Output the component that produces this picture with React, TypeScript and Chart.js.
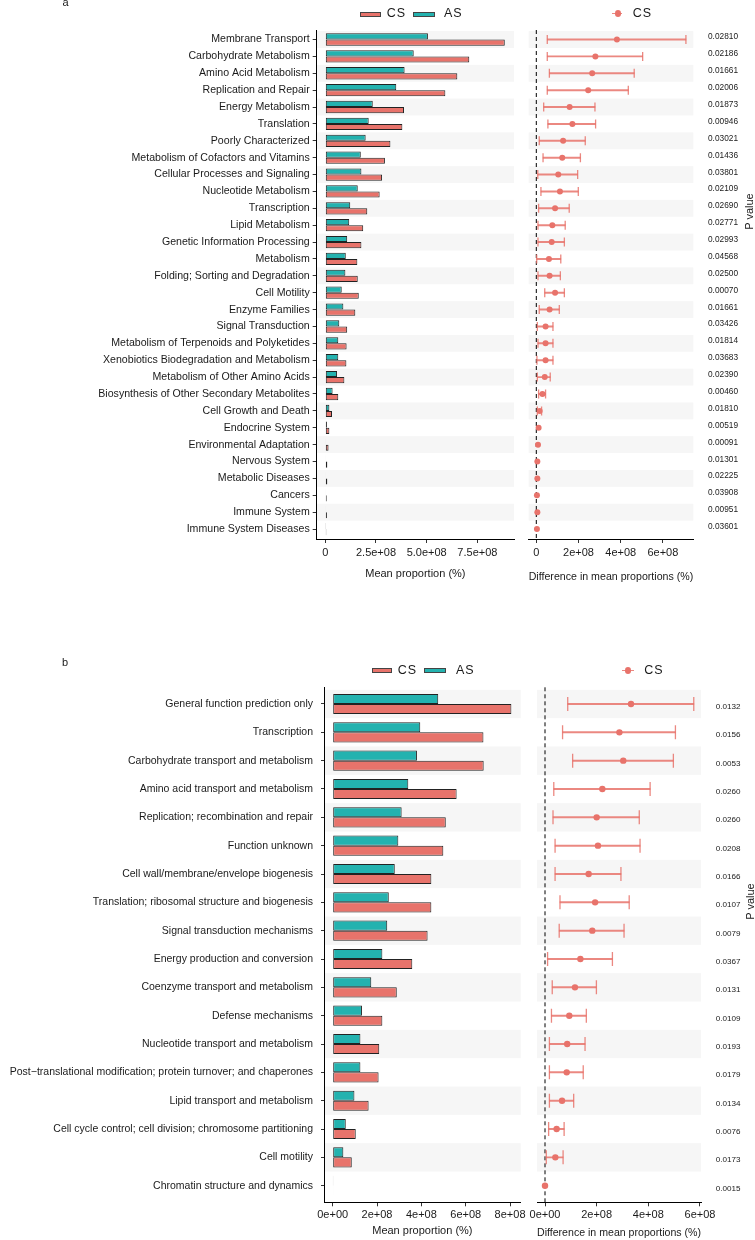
import React, { useEffect, useRef } from 'react';
import { Chart, registerables } from 'chart.js';

Chart.register(...registerables);

const FONT = "'Liberation Sans', Arial, Helvetica, sans-serif";
const CS_COLOR = '#E8736B';
const AS_COLOR = '#23B2AF';
const ERR_COLOR = 'rgba(232,115,107,0.85)';
const BAND_COLOR = '#F6F6F6';
const TEXT = '#1a1a1a';

// ---------------- Panel a data ----------------
const categoriesA = [
  'Membrane Transport', 'Carbohydrate Metabolism', 'Amino Acid Metabolism', 'Replication and Repair',
  'Energy Metabolism', 'Translation', 'Poorly Characterized', 'Metabolism of Cofactors and Vitamins',
  'Cellular Processes and Signaling', 'Nucleotide Metabolism', 'Transcription', 'Lipid Metabolism',
  'Genetic Information Processing', 'Metabolism', 'Folding; Sorting and Degradation', 'Cell Motility',
  'Enzyme Families', 'Signal Transduction', 'Metabolism of Terpenoids and Polyketides',
  'Xenobiotics Biodegradation and Metabolism', 'Metabolism of Other Amino Acids',
  'Biosynthesis of Other Secondary Metabolites', 'Cell Growth and Death', 'Endocrine System',
  'Environmental Adaptation', 'Nervous System', 'Metabolic Diseases', 'Cancers', 'Immune System',
  'Immune System Diseases',
];
const asMeanA = [
  5.06e8, 4.36e8, 3.91e8, 3.50e8, 2.34e8, 2.14e8, 1.99e8, 1.75e8, 1.78e8, 1.60e8,
  1.23e8, 1.18e8, 1.08e8, 1.01e8, 0.99e8, 0.81e8, 0.89e8, 0.69e8, 0.64e8, 0.64e8,
  0.58e8, 0.36e8, 0.20e8, 0.08e8, 0.03e8, 0.02e8, 0.02e8, 0.02e8, 0.02e8, 0.01e8,
];
const csMeanA = [
  8.85e8, 7.10e8, 6.51e8, 5.92e8, 3.88e8, 3.80e8, 3.21e8, 2.94e8, 2.80e8, 2.68e8,
  2.07e8, 1.87e8, 1.78e8, 1.58e8, 1.60e8, 1.65e8, 1.48e8, 1.08e8, 1.05e8, 1.04e8,
  0.94e8, 0.64e8, 0.33e8, 0.20e8, 0.16e8, 0.10e8, 0.10e8, 0.07e8, 0.08e8, 0.05e8,
];
const diffA = [
  3.82e8, 2.80e8, 2.65e8, 2.46e8, 1.58e8, 1.71e8, 1.27e8, 1.23e8, 1.04e8, 1.12e8,
  0.89e8, 0.76e8, 0.73e8, 0.60e8, 0.63e8, 0.89e8, 0.63e8, 0.44e8, 0.44e8, 0.44e8,
  0.40e8, 0.29e8, 0.16e8, 0.11e8, 0.08e8, 0.05e8, 0.05e8, 0.03e8, 0.05e8, 0.03e8,
];
const ciLowA = [
  0.52e8, 0.52e8, 0.62e8, 0.52e8, 0.35e8, 0.55e8, 0.14e8, 0.32e8, 0.07e8, 0.22e8,
  0.11e8, 0.08e8, 0.08e8, 0.02e8, 0.08e8, 0.40e8, 0.14e8, 0.05e8, 0.08e8, 0.03e8,
  0.05e8, 0.11e8, 0.05e8, null, null, null, null, null, null, null,
];
const ciHighA = [
  7.09e8, 5.04e8, 4.64e8, 4.36e8, 2.78e8, 2.81e8, 2.32e8, 2.09e8, 1.96e8, 1.99e8,
  1.56e8, 1.37e8, 1.33e8, 1.16e8, 1.14e8, 1.33e8, 1.09e8, 0.79e8, 0.79e8, 0.79e8,
  0.66e8, 0.44e8, 0.25e8, null, null, null, null, null, null, null,
];
const pValuesA = [
  '0.02810', '0.02186', '0.01661', '0.02006', '0.01873', '0.00946', '0.03021', '0.01436',
  '0.03801', '0.02109', '0.02690', '0.02771', '0.02993', '0.04568', '0.02500', '0.00070',
  '0.01661', '0.03426', '0.01814', '0.03683', '0.02390', '0.00460', '0.01810', '0.00519',
  '0.00091', '0.01301', '0.02225', '0.03908', '0.00951', '0.03601',
];
const barTickValuesA = [0, 2.5e8, 5e8, 7.5e8];
const barTickLabelsA = ['0', '2.5e+08', '5.0e+08', '7.5e+08'];
const diffTickValuesA = [0, 2e8, 4e8, 6e8];
const diffTickLabelsA = ['0', '2e+08', '4e+08', '6e+08'];

// ---------------- Panel b data ----------------
const categoriesB = [
  'General function prediction only', 'Transcription', 'Carbohydrate transport and metabolism',
  'Amino acid transport and metabolism', 'Replication; recombination and repair', 'Function unknown',
  'Cell wall/membrane/envelope biogenesis', 'Translation; ribosomal structure and biogenesis',
  'Signal transduction mechanisms', 'Energy production and conversion', 'Coenzyme transport and metabolism',
  'Defense mechanisms', 'Nucleotide transport and metabolism',
  'Post\u2212translational modification; protein turnover; and chaperones', 'Lipid transport and metabolism',
  'Cell cycle control; cell division; chromosome partitioning', 'Cell motility', 'Chromatin structure and dynamics',
];
const asMeanB = [
  4.76e8, 3.95e8, 3.80e8, 3.41e8, 3.11e8, 2.96e8, 2.80e8, 2.53e8, 2.46e8,
  2.24e8, 1.74e8, 1.32e8, 1.25e8, 1.25e8, 0.98e8, 0.59e8, 0.48e8, 0.01e8,
];
const csMeanB = [
  8.06e8, 6.80e8, 6.81e8, 5.59e8, 5.10e8, 4.99e8, 4.45e8, 4.45e8, 4.28e8,
  3.59e8, 2.89e8, 2.24e8, 2.10e8, 2.07e8, 1.62e8, 1.04e8, 0.86e8, 0.02e8,
];
const diffB = [
  3.33e8, 2.88e8, 3.03e8, 2.22e8, 2.00e8, 2.05e8, 1.69e8, 1.94e8, 1.83e8,
  1.37e8, 1.16e8, 0.94e8, 0.86e8, 0.84e8, 0.66e8, 0.45e8, 0.40e8, 0.00e8,
];
const ciLowB = [
  0.88e8, 0.68e8, 1.07e8, 0.34e8, 0.31e8, 0.39e8, 0.39e8, 0.58e8, 0.55e8,
  0.10e8, 0.28e8, 0.25e8, 0.17e8, 0.17e8, 0.17e8, 0.14e8, 0.05e8, null,
];
const ciHighB = [
  5.76e8, 5.05e8, 4.97e8, 4.07e8, 3.65e8, 3.68e8, 2.94e8, 3.26e8, 3.06e8,
  2.61e8, 1.99e8, 1.60e8, 1.55e8, 1.48e8, 1.11e8, 0.74e8, 0.70e8, null,
];
const pValuesB = [
  '0.0132', '0.0156', '0.0053', '0.0260', '0.0260', '0.0208', '0.0166', '0.0107', '0.0079',
  '0.0367', '0.0131', '0.0109', '0.0193', '0.0179', '0.0134', '0.0076', '0.0173', '0.0015',
];
const barTickValuesB = [0, 2e8, 4e8, 6e8, 8e8];
const barTickLabelsB = ['0e+00', '2e+08', '4e+08', '6e+08', '8e+08'];
const diffTickValuesB = [0, 2e8, 4e8, 6e8];
const diffTickLabelsB = ['0e+00', '2e+08', '4e+08', '6e+08'];

const seriesNames = ['CS', 'AS'];

// ---------------- plugin: alternating bands + dashed zero line ----------------
const bandPlugin = {
  id: 'bands',
  beforeDraw(chart: any, _args: any, opts: any) {
    const { ctx, chartArea } = chart;
    const ys = chart.scales.y;
    ctx.save();
    ctx.fillStyle = BAND_COLOR;
    for (let i = 0; i < opts.count; i += 2) {
      const y0 = ys.getPixelForValue(i - 0.5);
      const y1 = ys.getPixelForValue(i + 0.5);
      ctx.fillRect(chartArea.left, Math.min(y0, y1), chartArea.right - chartArea.left, Math.abs(y1 - y0));
    }
    if (opts.zero) {
      const x0 = chart.scales.x.getPixelForValue(0);
      ctx.strokeStyle = '#000';
      ctx.lineWidth = 1;
      ctx.setLineDash([4, 3]);
      ctx.beginPath();
      ctx.moveTo(x0, chartArea.top);
      ctx.lineTo(x0, chartArea.bottom);
      ctx.stroke();
    }
    ctx.restore();
  },
};

function xAxis(g: any, title: string) {
  return {
    type: 'linear',
    position: 'bottom',
    min: g.xMin,
    max: g.xMax,
    afterBuildTicks: (s: any) => { s.ticks = g.tickValues.map((v: number) => ({ value: v })); },
    afterFit: (s: any) => { s.height = g.xHeight; },
    ticks: {
      callback: (_v: any, i: number) => g.tickLabels[i],
      autoSkip: false, maxRotation: 0, minRotation: 0,
      padding: g.xTickPad,
      font: { family: FONT, size: 11 }, color: TEXT,
    },
    grid: { display: true, drawOnChartArea: false, drawTicks: true, tickLength: 4, color: '#333', lineWidth: 1 },
    border: { display: true, color: '#000', width: 1 },
    title: {
      display: true, text: title, font: { family: FONT, size: 11 }, color: TEXT,
      padding: { top: 0, bottom: g.titlePad },
    },
  };
}

function makeBarChart(canvas: HTMLCanvasElement, g: any) {
  const n = g.cats.length;
  return new Chart(canvas, {
    type: 'bar',
    data: {
      datasets: [
        {
          label: seriesNames[1],
          data: g.as.map((v: number, i: number) => ({ x: v, y: i })),
          backgroundColor: AS_COLOR, borderColor: '#222', borderWidth: 1, borderSkipped: false,
          categoryPercentage: g.catPct, barPercentage: 1,
        },
        {
          label: seriesNames[0],
          data: g.cs.map((v: number, i: number) => ({ x: v, y: i })),
          backgroundColor: CS_COLOR, borderColor: '#222', borderWidth: 1, borderSkipped: false,
          categoryPercentage: g.catPct, barPercentage: 1,
        },
      ],
    },
    options: {
      indexAxis: 'y',
      responsive: false,
      animation: false,
      events: [],
      layout: { padding: g.pad },
      plugins: { legend: { display: false }, tooltip: { enabled: false }, bands: { count: n, zero: false } },
      scales: {
        x: xAxis(g, 'Mean proportion (%)'),
        y: {
          type: 'linear', position: 'left', reverse: true, min: g.yMin, max: g.yMax, offset: false,
          afterBuildTicks: (s: any) => { s.ticks = g.cats.map((_c: string, i: number) => ({ value: i })); },
          afterFit: (s: any) => { s.width = g.yWidth; },
          ticks: {
            callback: (_v: any, i: number) => g.cats[i],
            autoSkip: false, padding: g.yPad,
            font: { family: FONT, size: g.labelSize }, color: TEXT,
          },
          grid: { display: true, offset: false, drawOnChartArea: false, drawTicks: true, tickLength: g.yTick, color: '#333' },
          border: { display: true, color: '#000', width: 1 },
        },
      },
    } as any,
    plugins: [bandPlugin],
  } as any);
}

function makeDiffChart(canvas: HTMLCanvasElement, g: any) {
  const n = g.diff.length;
  const caps: any[] = [];
  const whiskers: any[] = [];
  g.lo.forEach((v: number | null, i: number) => {
    if (v !== null && g.hi[i] !== null) {
      caps.push({ x: v, y: i });
      caps.push({ x: g.hi[i], y: i });
      whiskers.push({ x: [v, g.hi[i]], y: i });
    }
  });
  return new Chart(canvas, {
    type: 'bar',
    data: {
      datasets: [
        {
          type: 'scatter', label: seriesNames[0], order: 0,
          data: g.diff.map((v: number, i: number) => ({ x: v, y: i })),
          pointRadius: g.pointR, pointBackgroundColor: CS_COLOR, pointBorderWidth: 0, pointHoverRadius: g.pointR,
        },
        {
          type: 'scatter', label: 'caps', order: 1, data: caps,
          pointStyle: 'line', pointRotation: 90, pointRadius: g.capR, pointHoverRadius: g.capR,
          pointBorderColor: ERR_COLOR, pointBorderWidth: 1.3, pointBackgroundColor: ERR_COLOR,
        },
        {
          type: 'bar', label: 'ci', order: 2, data: whiskers,
          backgroundColor: ERR_COLOR, borderWidth: 0, barThickness: 1.3,
        },
      ],
    },
    options: {
      indexAxis: 'y',
      responsive: false,
      animation: false,
      events: [],
      layout: { padding: g.pad },
      plugins: { legend: { display: false }, tooltip: { enabled: false }, bands: { count: n, zero: true } },
      scales: {
        x: xAxis(g, 'Difference in mean proportions (%)'),
        y: {
          type: 'linear', position: 'right', reverse: true, min: g.yMin, max: g.yMax, offset: false,
          afterBuildTicks: (s: any) => { s.ticks = g.pvals.map((_p: string, i: number) => ({ value: i })); },
          afterFit: (s: any) => { s.width = g.yWidth; },
          ticks: {
            callback: (_v: any, i: number) => g.pvals[i],
            autoSkip: false, padding: g.pPad, labelOffset: g.pOffset,
            font: { family: FONT, size: g.pSize }, color: TEXT,
          },
          grid: { display: false, offset: false },
          border: { display: false },
        },
      },
    } as any,
    plugins: [bandPlugin],
  } as any);
}

// ---------------- layout geometry ----------------
const GEO = {
  aBar: { left: 0, top: 0, w: 520, h: 590 },
  aDiff: { left: 500, top: 0, w: 255, h: 590 },
  bBar: { left: 0, top: 640, w: 545, h: 600 },
  bDiff: { left: 510, top: 640, w: 245, h: 600 },
};

function Txt(props: any) {
  const { x, baseline, size, children, style } = props;
  return (
    <div
      style={{
        position: 'absolute', left: x, top: baseline - 0.8465 * size, fontSize: size,
        lineHeight: `${size}px`, whiteSpace: 'nowrap', fontFamily: FONT, color: TEXT, ...style,
      }}
    >
      {children}
    </div>
  );
}

function Box(props: any) {
  const { x, y, w, h, color } = props;
  return (
    <div
      style={{
        position: 'absolute', left: x, top: y, width: w, height: h, background: color,
        border: '1px solid #444', boxSizing: 'border-box',
      }}
    />
  );
}

function PointKey(props: any) {
  const { x0, x1, cx, cy } = props;
  return (
    <>
      <div style={{ position: 'absolute', left: x0, top: cy - 0.65, width: x1 - x0, height: 1.3, background: ERR_COLOR }} />
      <div style={{ position: 'absolute', left: cx - 3, top: cy - 3.3, width: 6, height: 6.6, borderRadius: '50%', background: CS_COLOR }} />
    </>
  );
}

function PLabel(props: any) {
  const { cx, cy } = props;
  return (
    <div
      style={{
        position: 'absolute', left: cx - 30, top: cy - 5.5, width: 60, height: 11, lineHeight: '11px',
        fontSize: 11, textAlign: 'center', transform: 'rotate(-90deg)', transformOrigin: '50% 50%',
        color: TEXT, whiteSpace: 'nowrap', fontFamily: FONT,
      }}
    >
      P value
    </div>
  );
}

const legendStyle = { letterSpacing: '1px' };

export default function App() {
  const aBar = useRef<HTMLCanvasElement>(null);
  const aDiff = useRef<HTMLCanvasElement>(null);
  const bBar = useRef<HTMLCanvasElement>(null);
  const bDiff = useRef<HTMLCanvasElement>(null);

  useEffect(() => {
    const charts = [
      makeBarChart(aBar.current as HTMLCanvasElement, {
        cats: categoriesA, as: asMeanA, cs: csMeanA,
        pad: { left: 0, right: 6, top: 30, bottom: 0 },
        yWidth: 316.7, xHeight: 51, yMin: -0.563, yMax: 29.59,
        xMin: -0.424e8, xMax: 9.305e8, tickValues: barTickValuesA, tickLabels: barTickLabelsA,
        catPct: 0.73, yTick: 4, yPad: 3, xTickPad: 3, titlePad: 9.4, labelSize: 10.6,
      }),
      makeDiffChart(aDiff.current as HTMLCanvasElement, {
        diff: diffA, lo: ciLowA, hi: ciHighA, pvals: pValuesA,
        pad: { left: 28.7, right: 0, top: 30, bottom: 0 },
        yWidth: 61.7, xHeight: 51, yMin: -0.563, yMax: 29.59,
        xMin: -0.36e8, xMax: 7.44e8, tickValues: diffTickValuesA, tickLabels: diffTickLabelsA,
        xTickPad: 3, titlePad: 6.7, pPad: 6.7, pOffset: -2.3, pSize: 8.3, pointR: 3, capR: 4.5,
      }),
      makeBarChart(bBar.current as HTMLCanvasElement, {
        cats: categoriesB, as: asMeanB, cs: csMeanB,
        pad: { left: 0, right: 24.3, top: 47.3, bottom: 0 },
        yWidth: 324, xHeight: 37.7, yMin: -0.589, yMax: 17.586,
        xMin: -0.392e8, xMax: 8.48e8, tickValues: barTickValuesB, tickLabels: barTickLabelsB,
        catPct: 0.71, yTick: 3, yPad: 8, xTickPad: 2, titlePad: 2.4, labelSize: 10.5,
      }),
      makeDiffChart(bDiff.current as HTMLCanvasElement, {
        diff: diffB, lo: ciLowB, hi: ciHighB, pvals: pValuesB,
        pad: { left: 27, right: 0, top: 47.3, bottom: 0 },
        yWidth: 54, xHeight: 37.7, yMin: -0.589, yMax: 17.586,
        xMin: -0.31e8, xMax: 6.04e8, tickValues: diffTickValuesB, tickLabels: diffTickLabelsB,
        xTickPad: 2, titlePad: 0, pPad: 6.7, pOffset: 2.9, pSize: 8.1, pointR: 3.2, capR: 7,
      }),
    ];
    return () => charts.forEach((c) => c.destroy());
  }, []);

  const cv = (k: keyof typeof GEO) => ({
    position: 'absolute' as const, left: GEO[k].left, top: GEO[k].top, width: GEO[k].w, height: GEO[k].h,
  });

  return (
    <div
      style={{
        position: 'absolute', left: 0, top: 0, width: 755, height: 1240, overflow: 'hidden',
        background: '#fff', fontFamily: FONT,
      }}
    >
      <canvas ref={aBar} width={GEO.aBar.w} height={GEO.aBar.h} style={cv('aBar')} />
      <canvas ref={aDiff} width={GEO.aDiff.w} height={GEO.aDiff.h} style={cv('aDiff')} />
      <canvas ref={bBar} width={GEO.bBar.w} height={GEO.bBar.h} style={cv('bBar')} />
      <canvas ref={bDiff} width={GEO.bDiff.w} height={GEO.bDiff.h} style={cv('bDiff')} />

      {/* panel letters */}
      <Txt x={62.5} baseline={5.8} size={11}>a</Txt>
      <Txt x={62} baseline={666.7} size={11}>b</Txt>

      {/* panel a legends */}
      <Box x={360} y={11.7} w={21} h={5.2} color={CS_COLOR} />
      <Txt x={386.7} baseline={17.6} size={12.5} style={legendStyle}>{seriesNames[0]}</Txt>
      <Box x={413.3} y={11.7} w={21.4} h={5.2} color={AS_COLOR} />
      <Txt x={444} baseline={17.6} size={12.5} style={legendStyle}>{seriesNames[1]}</Txt>
      <PointKey x0={611.7} x1={622.3} cx={617.5} cy={13.5} />
      <Txt x={632.7} baseline={17.6} size={12.5} style={legendStyle}>{seriesNames[0]}</Txt>

      {/* panel b legends */}
      <Box x={371.7} y={668} w={20.6} h={5.4} color={CS_COLOR} />
      <Txt x={397.7} baseline={674.6} size={12.5} style={legendStyle}>{seriesNames[0]}</Txt>
      <Box x={424.3} y={668} w={21.4} h={5.4} color={AS_COLOR} />
      <Txt x={456} baseline={674.6} size={12.5} style={legendStyle}>{seriesNames[1]}</Txt>
      <PointKey x0={622.3} x1={634.3} cx={628.3} cy={670.7} />
      <Txt x={644.3} baseline={674.6} size={12.5} style={legendStyle}>{seriesNames[0]}</Txt>

      {/* P value axis titles */}
      <PLabel cx={748.8} cy={211.5} />
      <PLabel cx={750.3} cy={901.5} />
    </div>
  );
}
